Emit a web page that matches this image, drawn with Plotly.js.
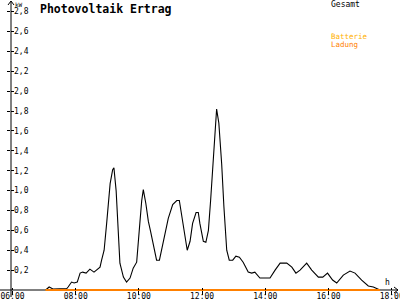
<!DOCTYPE html>
<html><head><meta charset="utf-8">
<script src="https://cdn.plot.ly/plotly-3.0.1.min.js"></script>
<style>html,body{margin:0;padding:0;background:#fff}#c{width:400px;height:300px}</style>
</head><body><div id="c"></div>
<script>
const hours = [7.05,7.16,7.28,7.72,7.76,7.87,7.95,8.05,8.14,8.22,
  8.33,8.45,8.58,8.68,8.77,8.82,8.90,8.98,9.09,9.17,
  9.21,9.28,9.35,9.40,9.51,9.61,9.72,9.82,9.93,9.98,
  10.03,10.09,10.14,10.22,10.30,10.37,10.46,10.56,10.65,10.72,
  10.83,10.93,11.07,11.20,11.28,11.33,11.43,11.53,11.62,11.70,
  11.81,11.88,11.93,12.04,12.12,12.20,12.27,12.35,12.44,12.46,
  12.53,12.62,12.69,12.78,12.86,12.97,13.07,13.18,13.30,13.46,
  13.57,13.67,13.83,14.15,14.31,14.47,14.68,14.84,14.97,15.10,
  15.31,15.47,15.68,15.82,15.97,16.13,16.26,16.47,16.68,16.84,
  17.05,17.26,17.42,17.63];
const gesamt = [0,0.03,0.01,0.015,0.03,0.08,0.07,0.08,0.17,0.18,
  0.17,0.21,0.18,0.21,0.23,0.30,0.40,0.67,1.07,1.21,
  1.23,1.00,0.60,0.27,0.13,0.08,0.12,0.22,0.28,0.44,
  0.67,0.90,1.01,0.87,0.69,0.59,0.44,0.30,0.30,0.40,
  0.57,0.72,0.86,0.90,0.90,0.79,0.57,0.40,0.49,0.67,
  0.78,0.78,0.67,0.49,0.48,0.60,0.90,1.34,1.74,1.82,
  1.68,1.27,0.84,0.40,0.30,0.30,0.34,0.33,0.28,0.18,
  0.17,0.18,0.12,0.12,0.20,0.27,0.27,0.23,0.17,0.20,
  0.27,0.20,0.13,0.13,0.17,0.10,0.07,0.15,0.19,0.17,
  0.10,0.04,0.03,0.00];
const batHours = [7.05, 17.63];
const batterie = [0, 0];
const ladung = [0, 0];
const xTickVals = [6, 8, 10, 12, 14, 16, 18];
const xTickText = ["06:00","08:00","10:00","12:00","14:00","16:00","18:00"];
const yTickVals = [0.2,0.4,0.6,0.8,1.0,1.2,1.4,1.6,1.8,2.0,2.2,2.4,2.6,2.8];
const yTickText = ["0,2","0,4","0,6","0,8","1,0","1,2","1,4","1,6","1,8","2,0","2,2","2,4","2,6","2,8"];

const L = 11, T = 2, W = 387, H = 290;
const px = v => (v - L) / W;
const py = v => (T + H - v) / H;
const F = "DejaVu Sans Mono, monospace";
const xr = [5.953, 18.2], yr = [-0.0201, 2.897];
const axPos = py(290);

const traces = [
  {x: hours, y: gesamt, type: 'scatter', mode: 'lines', line: {color: '#000', width: 1.1}, name: 'Gesamt'},
  {x: batHours, y: batterie, type: 'scatter', mode: 'lines', line: {color: '#FFB000', width: 2}, name: 'Batterie'},
  {x: batHours, y: ladung, type: 'scatter', mode: 'lines', line: {color: '#FF8000', width: 2}, name: 'Ladung'},
  {x: [], y: [], type: 'scatter', mode: 'lines', xaxis: 'x2', yaxis: 'y2', hoverinfo: 'skip'}
];
const layout = {
  width: 400, height: 300,
  margin: {l: L, r: 400 - L - W, t: T, b: 300 - T - H},
  paper_bgcolor: '#fff', plot_bgcolor: '#fff',
  showlegend: false,
  title: {text: 'Photovoltaik Ertrag', xref: 'container', yref: 'container', x: 40/400, xanchor: 'left', y: 1 - 9/300, yanchor: 'middle',
    font: {family: F, size: 11.5, color: '#000', weight: 'bold'}},
  xaxis: {range: xr, anchor: 'free', position: axPos, showgrid: false, zeroline: false, showline: false, tickvals: xTickVals, ticktext: xTickText,
    ticks: 'outside', ticklen: 4, tickcolor: '#000', tickwidth: 1, tickfont: {family: F, size: 8, color: '#000'},
    ticklabelshift: 7.5, ticklabelstandoff: -6, ticklabeloverflow: 'allow'},
  yaxis: {range: yr, showgrid: false, zeroline: false, showline: false, tickvals: yTickVals, ticktext: yTickText,
    ticks: 'outside', ticklen: 3, tickcolor: '#000', tickwidth: 1, ticklabelposition: 'inside', ticklabeloverflow: 'allow',
    tickfont: {family: F, size: 8, color: '#000'}},
  xaxis2: {range: xr, overlaying: 'x', anchor: 'free', position: axPos, showgrid: false, zeroline: false, tickvals: xTickVals, showticklabels: false,
    ticks: 'inside', ticklen: 2, tickcolor: '#000'},
  yaxis2: {range: yr, overlaying: 'y', anchor: 'x', showgrid: false, zeroline: false, tickvals: yTickVals, showticklabels: false,
    ticks: 'inside', ticklen: 3, tickcolor: '#000'},
  shapes: [
    {type: 'line', layer: 'below', xref: 'paper', yref: 'paper', x0: px(0), x1: px(398), y0: py(290), y1: py(290), line: {color: '#000', width: 1}},
    {type: 'line', layer: 'below', xref: 'paper', yref: 'paper', x0: px(11), x1: px(11), y0: py(297), y1: py(1), line: {color: '#000', width: 1}},
    {type: 'path', xref: 'paper', yref: 'paper', path: `M ${px(8)} ${py(5)} L ${px(11)} ${py(1)} L ${px(14)} ${py(5)}`, line: {color: '#000', width: 1}},
    {type: 'path', xref: 'paper', yref: 'paper', path: `M ${px(394)} ${py(287)} L ${px(398)} ${py(290)} L ${px(394)} ${py(293)}`, line: {color: '#000', width: 1}}
  ],
  annotations: [
    {text: 'kW', xref: 'paper', yref: 'paper', x: px(13), y: py(4), xanchor: 'left', yanchor: 'middle', showarrow: false, font: {family: F, size: 6, color: '#000'}},
    {text: 'Gesamt', xref: 'paper', yref: 'paper', x: px(329), y: py(4.5), xanchor: 'left', yanchor: 'middle', showarrow: false, font: {family: F, size: 8, color: '#000'}},
    {text: 'Batterie', xref: 'paper', yref: 'paper', x: px(329), y: py(36.5), xanchor: 'left', yanchor: 'middle', showarrow: false, font: {family: F, size: 7.5, color: '#FFB000'}},
    {text: 'Ladung', xref: 'paper', yref: 'paper', x: px(329), y: py(45), xanchor: 'left', yanchor: 'middle', showarrow: false, font: {family: F, size: 7.5, color: '#FF8000'}},
    {text: 'h', xref: 'paper', yref: 'paper', x: px(387), y: py(282), xanchor: 'center', yanchor: 'middle', showarrow: false, font: {family: F, size: 8, color: '#000'}}
  ]
};
Plotly.newPlot('c', traces, layout, {staticPlot: true, displayModeBar: false});
</script></body></html>
